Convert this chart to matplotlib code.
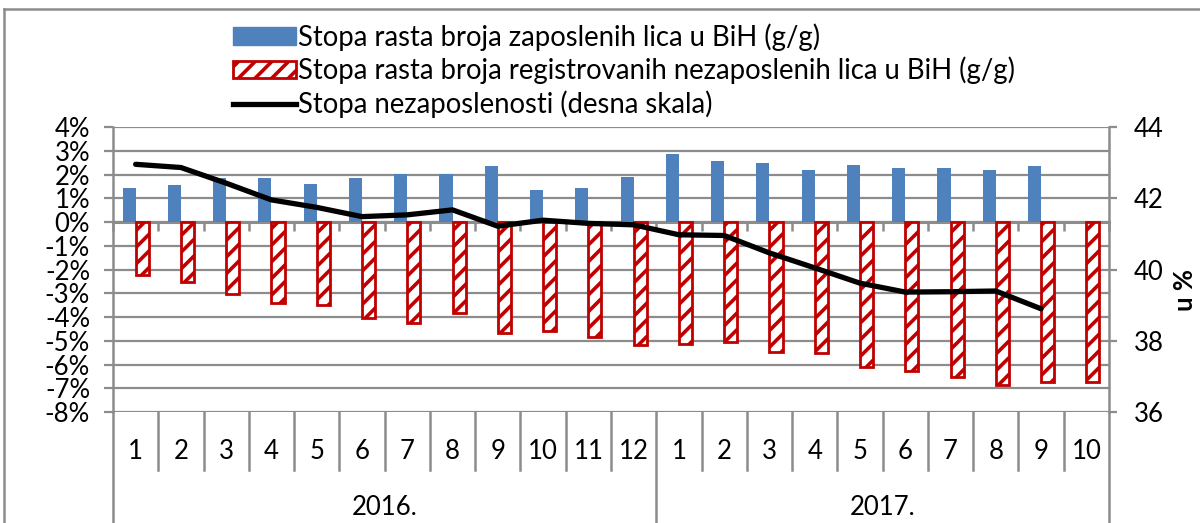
import numpy as np
import matplotlib
matplotlib.use("Agg")
import matplotlib.pyplot as plt
from matplotlib.lines import Line2D
from matplotlib.patches import Patch

plt.rcParams['font.family'] = ['Lato', 'DejaVu Sans']
plt.rcParams['hatch.linewidth'] = 2.6

# data
months_2016 = [str(m) for m in range(1, 13)]
months_2017 = [str(m) for m in range(1, 11)]
years = ['2016.', '2017.']
employed = [1.45, 1.57, 1.88, 1.87, 1.61, 1.87, 2.05, 2.05, 2.35, 1.34, 1.45, 1.92,
            2.89, 2.56, 2.50, 2.21, 2.42, 2.29, 2.27, 2.21, 2.35]
registered_unemployed = [-2.23, -2.50, -3.04, -3.40, -3.49, -4.02, -4.26, -3.81, -4.65, -4.58, -4.82, -5.18,
                         -5.14, -5.03, -5.49, -5.53, -6.12, -6.26, -6.54, -6.86, -6.75, -6.75]
unemployment_rate = [42.96, 42.87, 42.43, 41.96, 41.75, 41.49, 41.54, 41.68, 41.22, 41.39, 41.30, 41.26,
                     40.98, 40.96, 40.47, 40.05, 39.62, 39.37, 39.38, 39.40, 38.90]

labels = ['Stopa rasta broja zaposlenih lica u BiH (g/g)',
          'Stopa rasta broja registrovanih nezaposlenih lica u BiH (g/g)',
          'Stopa nezaposlenosti (desna skala)']

blue = '#4F81BD'
red = '#C00000'
grid = '#8C8C8C'
fs = 18.5

months = months_2016 + months_2017
n = len(months)
centers = np.arange(n) + 0.5
bw = 0.29

fig = plt.figure(figsize=(12, 5.23), dpi=100)
ax = fig.add_axes([113 / 1200, 1 - 412 / 523, (1109 - 113) / 1200, (412 - 127.3) / 523])

ax.bar(centers[:len(employed)], employed, width=-bw, align='edge', color=blue, zorder=3)
ax.bar(centers, registered_unemployed, width=bw, align='edge', facecolor='white',
       edgecolor=red, hatch='//', linewidth=2, zorder=3)

ax.set_xlim(0, n)
ax.set_ylim(-8, 4)
ax.set_yticks(np.arange(-8, 5, 1))
ax.set_yticklabels([f'{v}%' for v in range(-8, 5)])
ax.yaxis.grid(True, color=grid, linewidth=1.6, zorder=0)
ax.set_axisbelow(True)

ax.spines['bottom'].set_position(('data', 0))
ax.spines['bottom'].set_color(grid)
ax.spines['bottom'].set_linewidth(2.2)
ax.spines['bottom'].set_zorder(2)
ax.spines['top'].set_visible(False)
ax.spines['right'].set_visible(False)
ax.spines['left'].set_color(grid)
ax.spines['left'].set_linewidth(1.8)
ax.set_xticks(np.arange(0, n + 1))
ax.tick_params(axis='x', length=6.5, width=1.8, color=grid, labelbottom=False, direction='out')
ax.tick_params(axis='y', length=6.5, width=1.6, color=grid, labelsize=fs, pad=10)

# category labels below the plot
trans = ax.get_xaxis_transform()
for i, m in enumerate(months):
    ax.text(centers[i], -0.14, m, transform=trans, ha='center', va='center', fontsize=fs)
for b in range(n + 1):
    y_end = -0.39 if b in (0, 12, n) else -0.204
    ax.add_line(Line2D([b, b], [0, y_end], transform=trans, color=grid, lw=1.8, clip_on=False))
ax.text(6, -0.337, years[0], transform=trans, ha='center', va='center', fontsize=fs)
ax.text(12 + 5, -0.337, years[1], transform=trans, ha='center', va='center', fontsize=fs)

ax2 = ax.twinx()
ax2.plot(centers[:len(unemployment_rate)], unemployment_rate, color='black', lw=3.8,
         solid_capstyle='round', zorder=5)
ax2.set_ylim(36, 44)
ax2.set_yticks(np.arange(36, 45, 2))
for s in ['top', 'left', 'bottom']:
    ax2.spines[s].set_visible(False)
ax2.spines['right'].set_color(grid)
ax2.spines['right'].set_linewidth(1.8)
ax2.tick_params(axis='y', length=6, width=1.6, color=grid, labelsize=fs, pad=12)
fig.text(1185 / 1200, 1 - 290 / 523, 'u %', rotation=90, ha='center', va='center',
         fontsize=fs, fontweight='bold')

# outer chart border
fig.add_artist(Line2D([4 / 1200, 1], [1 - 9 / 523, 1 - 9 / 523], color=grid, lw=1.8))
fig.add_artist(Line2D([4 / 1200, 4 / 1200], [0, 1 - 9 / 523], color=grid, lw=1.8))

handles = [Patch(facecolor=blue, edgecolor=blue),
           Patch(facecolor='white', edgecolor=red, hatch='//', linewidth=2),
           Line2D([0], [0], color='black', lw=3.8)]
fig.legend(handles, labels, loc='upper left', bbox_to_anchor=(233 / 1200, 1 - 23 / 523),
           frameon=False, fontsize=19.8, handlelength=2.3, handleheight=0.62,
           handletextpad=0.05, labelspacing=0.22, borderpad=0, borderaxespad=0)

fig.savefig('out.png', dpi=100)
